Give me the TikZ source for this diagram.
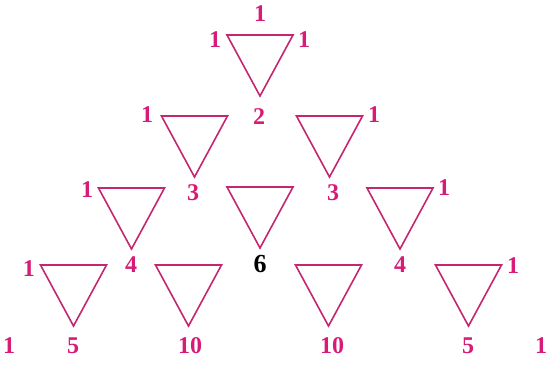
\documentclass[tikz,border=0pt]{standalone}
\usepackage{fontspec}
\setmainfont{Liberation Serif}
\definecolor{PinkNum}{RGB}{214,28,118}
\definecolor{PinkLine}{RGB}{196,38,112}
\def\w{33}
\def\h{61}

\begin{document}
\begin{tikzpicture}[x=1pt, y=-1pt, font=\fontsize{24}{28}\selectfont\bfseries]
\useasboundingbox (0,0) rectangle (547,368);

% triángulos: x/y (centro del lado de arriba)
\foreach \x/\y in {260/35, 194.5/116, 329.5/116, 131.5/188, 260/187, 400/188,
    73.5/265, 188.5/265, 328.5/265, 468.5/265}{
    \draw[PinkLine, line width=1.6pt, line join=miter] (\x-\w,\y) -- (\x+\w,\y) -- (\x,\y+\h) -- cycle;
}

% números: nombre/x/y/valor
\foreach \nm/\x/\y/\v in {%
    r0a/260/14/1,
    r1a/215/40/1, r1b/304/40/1,
    r2a/147/115/1, r2b/259/117/2, r2c/374/115/1,
    r3a/87/190/1, r3b/193/193/3, r3c/333/193/3, r3d/444/188/1,
    r4a/29/269/1, r4b/131/265/4, r4d/400/265/4, r4e/513/266/1,
    r5a/9/346/1, r5b/73/346/5, r5c/190/346/10, r5d/332/346/10, r5e/468/346/5, r5f/541/346/1}{%
    \node[text=PinkNum, inner sep=0] (\nm) at (\x,\y) {\v};
}

% el seis en negro
\node[text=black, inner sep=0, font=\fontsize{26}{30}\selectfont\bfseries] (r4c) at (260,264) {6};

\end{tikzpicture}
\end{document}
